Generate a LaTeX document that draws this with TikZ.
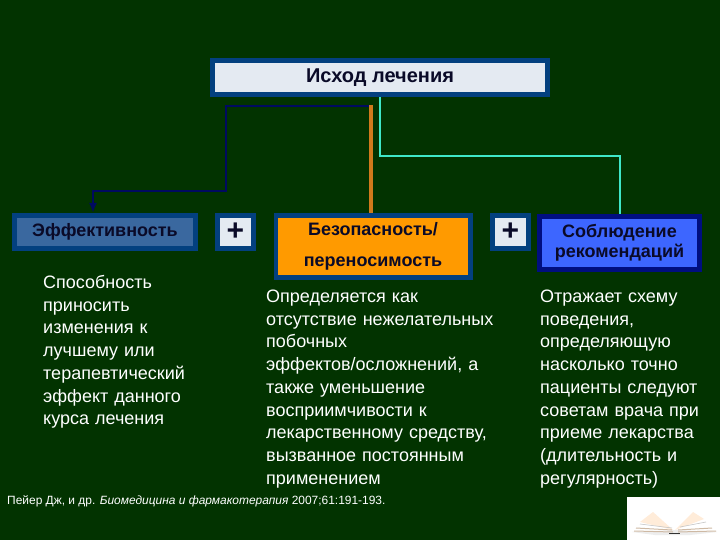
\documentclass[tikz,border=0pt]{standalone}
\usepackage{fontspec}
\usetikzlibrary{arrows.meta}
\setmainfont{Liberation Sans}
\definecolor{bgc}{HTML}{023300}
\definecolor{edgeblue}{HTML}{03407F}
\definecolor{edgenavy}{HTML}{000E80}
\definecolor{paleb}{HTML}{E4EAF2}
\definecolor{effb}{HTML}{3A689F}
\definecolor{orng}{HTML}{FF9A00}
\definecolor{brightb}{HTML}{3D66FF}
\definecolor{inkc}{HTML}{0A0A28}
\definecolor{orline}{HTML}{D07A1C}
\definecolor{cyanl}{HTML}{3FE8C8}
\definecolor{navyl}{HTML}{000A60}
\tikzset{
  x=1pt,y=-1pt,
  headbox/.style={draw=edgeblue,line width=4.6pt,inner sep=0pt,text=inkc,font=\bfseries\fontsize{18}{22}\selectfont,align=center},
  plusbox/.style={headbox,fill=paleb,minimum width=36.4pt,minimum height=33.4pt,font=\bfseries\fontsize{30}{30}\selectfont},
  body/.style={anchor=north west,inner sep=0pt,text=white,align=left,text width=#1,font=\fontsize{18}{22.75}\selectfont}
}
\begin{document}
\begin{tikzpicture}
\useasboundingbox (0,0) rectangle (720,540);
\fill[bgc] (0,0) rectangle (720,540);
\node[headbox,fill=paleb,minimum width=335.4pt,minimum height=34.4pt,font=\bfseries\fontsize{20}{22}\selectfont] (top) at (380,77.5) {\raisebox{-1pt}{Исход лечения}};
\node[headbox,fill=effb,minimum width=181.4pt,minimum height=33.4pt] (eff) at (105,232) {\raisebox{2pt}{Эффективность}};
\node[plusbox] (p1) at (235.5,232) {\raisebox{-2pt}{+}};
\node[headbox,fill=orng,minimum width=194.4pt,minimum height=62.4pt,font=\bfseries\fontsize{18}{31}\selectfont] (saf) at (373,246.5) {\raisebox{-2pt}{Безопасность/}\\\raisebox{-2pt}{переносимость}};
\node[plusbox] (p2) at (510.5,232) {\raisebox{-2pt}{+}};
\node[headbox,draw=edgenavy,fill=brightb,minimum width=160.4pt,minimum height=53.4pt,font=\bfseries\fontsize{18}{20}\selectfont] (adh) at (619.5,243) {Соблюдение\\рекомендаций};
\coordinate (nstart) at (371,106);
\coordinate (ostart) at (371,105);
\draw[navyl,line width=2pt,-{Latex[length=10pt,width=8pt]}] (nstart) -- (226,106) -- (226,191) -- (93,191) -- (93,191 |- eff.north);
\draw[orline,line width=3.4pt] (ostart) -- (ostart |- saf.north);
\draw[cyanl,line width=2pt] (top.south -| 380,97) -- (380,156) -- (adh.north |- 380,156) -- (adh.north);
\node[body=170pt] (t1) at (43,275) {Способность\\приносить\\изменения к\\лучшему или\\терапевтический\\эффект данного\\курса лечения};
\node[body=250pt] (t2) at (266,289.5) {Определяется как\\отсутствие нежелательных\\побочных\\эффектов/осложнений, а\\также уменьшение\\восприимчивости к\\лекарственному средству,\\вызванное постоянным\\применением};
\node[body=175pt] (t3) at (540,289.5) {Отражает схему\\поведения,\\определяющую\\насколько точно\\пациенты следуют\\советам врача при\\приеме лекарства\\(длительность и\\регулярность)};
\node[anchor=west,inner sep=0pt,text=white,font=\fontsize{11.95}{13}\selectfont] (ref) at (7,501) {Пейер Дж, и др. \textit{Биомедицина и фармакотерапия} 2007;61:191-193.};
\fill[white] (627,497) rectangle (720,540);
\fill[black!7] (632,532) -- (675,530) -- (717,532) -- (690,535) -- (655,535) -- cycle;
\fill[orange!15!white] (653,512) -- (673,530) -- (640,522) -- cycle;
\fill[orange!15!white] (675,530) -- (693,512) -- (704,519) -- cycle;
\draw[brown!60!gray!55,line width=1pt] (634,531) -- (673,532) (636,528) -- (672,530) (678,530) -- (712,528) (678,532) -- (716,531);
\draw[gray!45,line width=.6pt] (640,524) -- (672,528) (680,527) -- (706,522);
\draw[black!80,line width=1pt] (669,533) -- (680,533);
\end{tikzpicture}
\end{document}
